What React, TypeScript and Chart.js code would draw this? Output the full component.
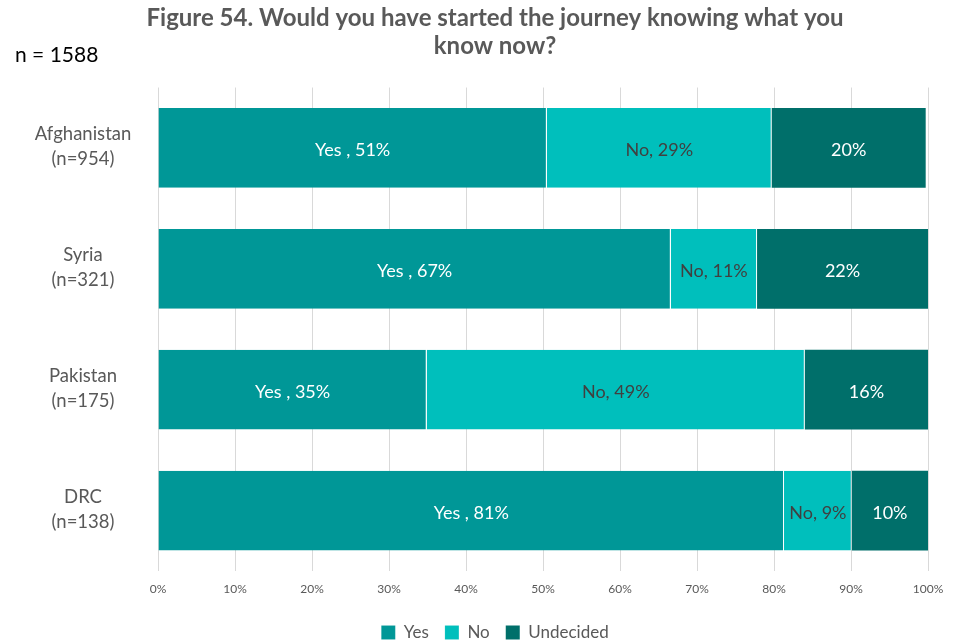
import React, { useEffect, useRef } from "react";
import { Chart, registerables } from "chart.js";

Chart.register(...registerables);

const categories: string[][] = [
  ["Afghanistan", "(n=954)"],
  ["Syria", "(n=321)"],
  ["Pakistan", "(n=175)"],
  ["DRC", "(n=138)"],
];
const yesValues = [50.5, 66.6, 34.9, 81.3];
const noValues = [29.2, 11.2, 49.1, 8.8];
const undecidedValues = [20.0, 22.2, 16.0, 9.9];
const seriesNames = ["Yes", "No", "Undecided"];
const labelPrefixes = ["Yes , ", "No, ", ""];
const titleLines = ["Figure 54. Would you have started the journey knowing what you", "know now?"];
const sampleNote = "n = 1588";

const FONT = "Lato, 'Open Sans', sans-serif";
const GREY = "#595959";
const CANVAS_W = 992;
const CANVAS_H = 644;

const labelPlugin = {
  id: "barLabels",
  afterDatasetsDraw(chart: any) {
    const ctx = chart.ctx;
    ctx.save();
    ctx.font = `18px ${FONT}`;
    ctx.textAlign = "center";
    ctx.textBaseline = "middle";
    chart.data.datasets.forEach((ds: any, di: number) => {
      const meta = chart.getDatasetMeta(di);
      meta.data.forEach((el: any, i: number) => {
        const v = ds.data[i];
        const text = labelPrefixes[di] + Math.round(v) + "%";
        ctx.fillStyle = di === 1 ? "#404040" : "#ffffff";
        ctx.fillText(text, (el.x + el.base) / 2, el.y + 2.5);
      });
    });
    ctx.restore();
  },
};

const categoryLabelPlugin = {
  id: "categoryLabels",
  afterDraw(chart: any) {
    const ctx = chart.ctx;
    const yScale = chart.scales.y;
    ctx.save();
    ctx.font = `18.5px ${FONT}`;
    ctx.fillStyle = GREY;
    ctx.textAlign = "center";
    ctx.textBaseline = "middle";
    const cx = chart.chartArea.left - 75;
    categories.forEach((lines, i) => {
      const y = yScale.getPixelForValue(i);
      ctx.fillText(lines[0], cx, y - 13.5);
      ctx.fillText(lines[1], cx, y + 11.5);
    });
    ctx.font = `21px ${FONT}`;
    ctx.fillStyle = "#000000";
    ctx.textAlign = "left";
    ctx.fillText(sampleNote, 15, 55);
    ctx.restore();
  },
};

export default function App() {
  const ref = useRef<HTMLCanvasElement>(null);
  useEffect(() => {
    if (!ref.current) return;
    const chart = new Chart(ref.current, {
      type: "bar",
      data: {
        labels: categories.map((c) => c.join(" ")),
        datasets: [
          { label: seriesNames[0], data: yesValues, backgroundColor: "#009797", borderColor: "rgba(255,255,255,0.35)", borderWidth: { right: 1 } as any },
          { label: seriesNames[1], data: noValues, backgroundColor: "#00BFBC", borderColor: "rgba(255,255,255,0.35)", borderWidth: { right: 1 } as any },
          { label: seriesNames[2], data: undecidedValues, backgroundColor: "#006F6A", borderWidth: 0 },
        ],
      },
      options: {
        indexAxis: "y",
        animation: false,
        responsive: false,
        maintainAspectRatio: false,
        layout: { padding: { left: 62, right: 64, top: 4, bottom: -7 } },
        datasets: { bar: { barPercentage: 0.66, categoryPercentage: 1 } },
        scales: {
          x: {
            stacked: true,
            min: 0,
            max: 100,
            ticks: {
              stepSize: 10,
              callback: (v: any) => v + "%",
              color: GREY,
              font: { family: FONT, size: 12 },
              padding: 10.5,
            },
            grid: { color: "#d9d9d9", lineWidth: 1, drawTicks: false },
            border: { display: false },
            afterFit: (s: any) => { s.height = 37; },
          },
          y: {
            stacked: true,
            ticks: { display: false },
            grid: { display: false },
            border: { display: false },
            afterFit: (s: any) => { s.width = 96; },
          },
        },
        plugins: {
          title: {
            display: true,
            text: titleLines,
            color: GREY,
            font: { family: FONT, size: 24, weight: "bold", lineHeight: 1.167 },
            padding: { top: 0, bottom: 27.5 },
          },
          legend: {
            position: "bottom",
            labels: {
              color: GREY,
              font: { family: FONT, size: 17 },
              boxWidth: 14,
              boxHeight: 14,
              padding: 16,
            },
          },
          tooltip: { enabled: false },
        },
      },
      plugins: [labelPlugin, categoryLabelPlugin],
    });
    return () => chart.destroy();
  }, []);
  return (
    <div style={{ position: "absolute", left: 0, top: 0, width: 962, height: 644, overflow: "hidden", background: "#fff" }}>
      <canvas ref={ref} width={CANVAS_W} height={CANVAS_H} style={{ width: CANVAS_W, height: CANVAS_H, display: "block" }} />
    </div>
  );
}
